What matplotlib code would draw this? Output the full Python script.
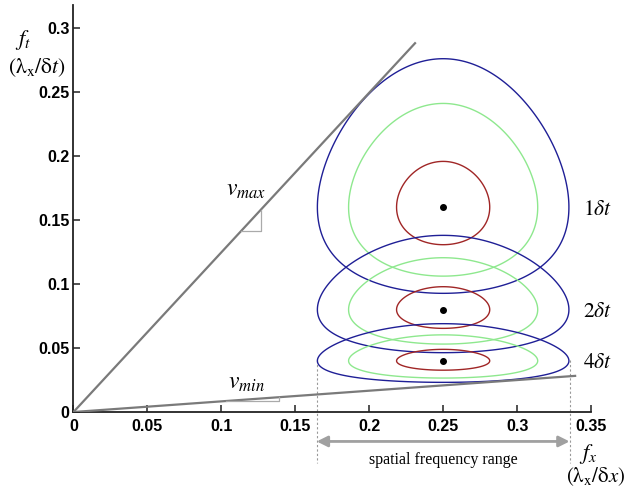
import numpy as np
import matplotlib
matplotlib.use("Agg")
import matplotlib.pyplot as plt

plt.rcParams['mathtext.fontset'] = 'stix'

# ---- data ----
x_ticks = [0, 0.05, 0.1, 0.15, 0.2, 0.25, 0.3, 0.35]
x_ticklabels = ['0', '0.05', '0.1', '0.15', '0.2', '0.25', '0.3', '0.35']
y_ticks = [0, 0.05, 0.1, 0.15, 0.2, 0.25, 0.3]
y_ticklabels = ['0', '0.05', '0.1', '0.15', '0.2', '0.25', '0.3']

fx_center = 0.25
ft_centers = [0.16, 0.08, 0.04]          # 1dt, 2dt, 4dt
delay_labels = [r'$1\delta t$', r'$2\delta t$', r'$4\delta t$']
sigma_fx = 0.0315                        # spread along f_x
sigma_logft = 0.202                      # spread along ln(f_t)
contour_radii = [2.7, 2.03, 1.0]         # outer blue, green, inner red
contour_colors = ['#1f1f96', '#8ee88e', '#a02626']

vmax_x = [0, 0.2315]
vmax_y = [0, 0.2888]
vmin_x = [0, 0.340]
vmin_y = [0, 0.0283]
vmax_mark_x = [0.1135, 0.1269, 0.1269]
vmax_mark_y = [0.1414, 0.1414, 0.1580]
vmin_mark_x = [0.103, 0.1392, 0.1392]
vmin_mark_y = [0.0085, 0.0085, 0.0116]

range_lo = 0.1645
range_hi = 0.3355

fig = plt.figure(figsize=(6.27, 4.97), dpi=100)
ax = fig.add_axes([0.1172, 0.1710, 0.8254, 0.8189])
ax.set_xlim(0, 0.35)
ax.set_ylim(0, 0.318)

# contours of the model sensitivity
gx = np.linspace(0.10, 0.40, 700)
gy = np.linspace(0.004, 0.317, 900)
GX, GY = np.meshgrid(gx, gy)
levels = [np.exp(-0.5 * r ** 2) for r in contour_radii]
for cy in ft_centers:
    Z = np.exp(-0.5 * (((GX - fx_center) / sigma_fx) ** 2 +
                       (np.log(GY / cy) / sigma_logft) ** 2))
    ax.contour(GX, GY, Z, levels=levels, colors=contour_colors,
               linewidths=1.0, zorder=2)
    ax.plot([fx_center], [cy], 'o', color='black', markersize=4, zorder=4)

# velocity lines
line_col = '#7a7a7a'
ax.plot(vmax_x, vmax_y, color=line_col, lw=1.6, zorder=3, solid_capstyle='butt')
ax.plot(vmin_x, vmin_y, color=line_col, lw=1.6, zorder=3, solid_capstyle='butt')
ax.plot(vmax_mark_x, vmax_mark_y, color='#aaaaaa', lw=0.9, zorder=3)
ax.plot(vmin_mark_x, vmin_mark_y, color='#aaaaaa', lw=0.9, zorder=3)

ax.text(0.1167, 0.174, r'$v_{max}$', fontsize=17, ha='center', va='center')
ax.text(0.1167, 0.0235, r'$v_{min}$', fontsize=17, ha='center', va='center')

for cy, lab in zip(ft_centers, delay_labels):
    ax.text(0.3447, cy - 0.001, lab, fontsize=15.5, ha='left', va='center')

# spatial frequency range
for xv in (range_lo, range_hi):
    ax.plot([xv, xv], [0.041, -0.040], color='#999999', lw=0.8,
            linestyle=(0, (2, 2)), clip_on=False, zorder=1)
ax.annotate('', xy=(range_lo, -0.023), xytext=(range_hi, -0.023),
            arrowprops=dict(arrowstyle='<|-|>', color='#a0a0a0', lw=2,
                            mutation_scale=16, shrinkA=0, shrinkB=0),
            annotation_clip=False)
ax.text(0.25, -0.0375, 'spatial frequency range', fontsize=11.5,
        family='Liberation Serif', ha='center', va='center')

# axis labels
fig.text(0.0367, 0.9195, r'$f_t$', fontsize=16, ha='center', va='center')
fig.text(0.0582, 0.863, r'$(\mathrm{\lambda_x/\delta}t)$', fontsize=15.5,
         ha='center', va='center')
fig.text(0.9386, 0.0875, r'$f_x$', fontsize=16, ha='center', va='center')
fig.text(0.997, 0.0412, r'$(\mathrm{\lambda_x/\delta}x)$', fontsize=15,
         ha='right', va='center')

# axes styling
for s in ('top', 'right'):
    ax.spines[s].set_visible(False)
for s in ('left', 'bottom'):
    ax.spines[s].set_linewidth(1.3)
    ax.spines[s].set_color('#222222')
ax.set_xticks(x_ticks)
ax.set_xticklabels(x_ticklabels)
ax.set_yticks(y_ticks)
ax.set_yticklabels(y_ticklabels)
ax.tick_params(direction='in', length=5, width=1.1, color='#222222')
ax.tick_params(axis='x', pad=5)
ax.tick_params(axis='y', pad=3)
for lab in ax.get_xticklabels() + ax.get_yticklabels():
    lab.set_fontfamily('Liberation Sans')
    lab.set_fontweight('bold')
    lab.set_fontsize(11.5)

fig.savefig('out.png', dpi=100)
